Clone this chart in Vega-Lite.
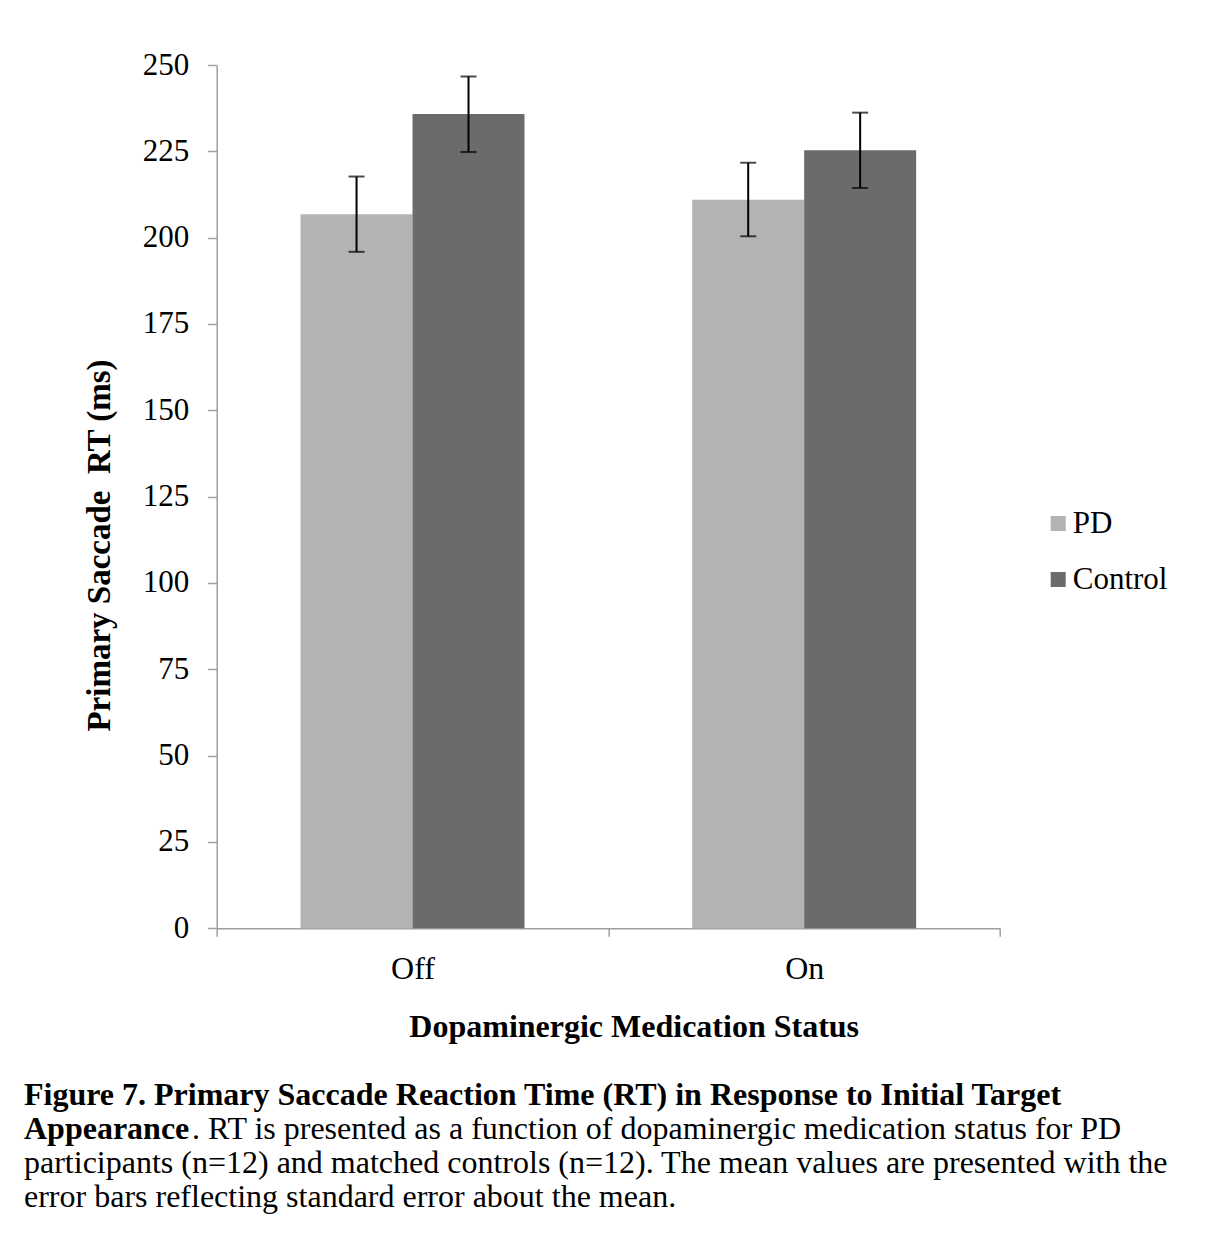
{
  "$schema": "https://vega.github.io/schema/vega-lite/v6.json",
  "width": 783.3,
  "height": 863.3,
  "autosize": {"type": "none"},
  "padding": {"left": 216.7, "top": 65, "right": 217, "bottom": 323.7},
  "background": "white",
  "config": {"view": {"stroke": null}, "font": "Liberation Serif"},
  "title": {
    "text": ["Figure 7. Primary Saccade Reaction Time (RT) in Response to Initial Target", "Appearance"],
    "subtitle": ["\u200b\u00a0\u00a0\u00a0\u00a0\u00a0\u00a0\u00a0\u00a0\u00a0\u00a0\u00a0\u00a0\u00a0\u00a0\u00a0\u00a0\u00a0\u00a0\u00a0\u00a0\u00a0. RT is presented as a function of dopaminergic medication status for PD", "participants (n=12) and matched controls (n=12). The mean values are presented with the", "error bars reflecting standard error about the mean."],
    "orient": "bottom",
    "anchor": "start",
    "frame": "group",
    "dx": -192.7,
    "offset": 38,
    "font": "Liberation Serif",
    "fontSize": 32,
    "fontWeight": "bold",
    "color": "black",
    "lineHeight": 34,
    "subtitleFont": "Liberation Serif",
    "subtitleFontSize": 32,
    "subtitleFontWeight": "normal",
    "subtitleColor": "black",
    "subtitleLineHeight": 34,
    "subtitlePadding": -32
  },
  "data": {"values": [
    {"status": "Off", "group": "PD", "mean": 206.8, "lo": 195.9, "hi": 217.7},
    {"status": "Off", "group": "Control", "mean": 235.8, "lo": 224.8, "hi": 246.7},
    {"status": "On", "group": "PD", "mean": 211.0, "lo": 200.4, "hi": 221.7},
    {"status": "On", "group": "Control", "mean": 225.3, "lo": 214.4, "hi": 236.2}
  ]},
  "encoding": {
    "x": {
      "field": "status", "type": "nominal", "sort": ["Off", "On"],
      "scale": {"paddingInner": 0, "paddingOuter": 0},
      "axis": {
        "title": "Dopaminergic Medication Status",
        "tickBand": "extent",
        "labelAngle": 0,
        "domainColor": "#a0a0a0", "domainWidth": 1.5,
        "tickColor": "#a0a0a0", "tickWidth": 1.5, "tickSize": 8,
        "labelFont": "Liberation Serif", "labelFontSize": 32, "labelColor": "black", "labelPadding": 17,
        "titleFont": "Liberation Serif", "titleFontSize": 32, "titleFontWeight": "bold", "titleColor": "black",
        "titleX": 417, "titleY": 83
      }
    },
    "xOffset": {"field": "group", "type": "nominal", "sort": ["PD", "Control"], "scale": {"paddingInner": 0, "paddingOuter": 0.749}}
  },
  "layer": [
    {
      "mark": {"type": "bar"},
      "encoding": {
        "y": {
          "field": "mean", "type": "quantitative", "title": "Primary Saccade \u00a0RT (ms)",
          "scale": {"domain": [0, 250], "nice": false, "zero": true},
          "axis": {
            "values": [0, 25, 50, 75, 100, 125, 150, 175, 200, 225, 250],
            "grid": false,
            "domainColor": "#a0a0a0", "domainWidth": 1.5,
            "tickColor": "#a0a0a0", "tickWidth": 1.5, "tickSize": 9,
            "labelFont": "Liberation Serif", "labelFontSize": 31, "labelColor": "black", "labelPadding": 19,
            "titleFont": "Liberation Serif", "titleFontSize": 33, "titleFontWeight": "bold", "titleColor": "black",
            "titleX": -100, "titleY": 480
          }
        },
        "color": {
          "field": "group", "type": "nominal", "sort": ["PD", "Control"],
          "scale": {"domain": ["PD", "Control"], "range": ["#b3b3b3", "#6b6b6b"]},
          "legend": {
            "title": null, "orient": "none", "legendX": 826, "legendY": 443,
            "symbolType": "square", "symbolSize": 225, "symbolStrokeWidth": 0,
            "labelFont": "Liberation Serif", "labelFontSize": 31, "labelColor": "black",
            "labelOffset": -1, "rowPadding": 24
          }
        }
      }
    },
    {
      "mark": {"type": "rule", "color": "black", "strokeWidth": 2},
      "encoding": {
        "y": {"field": "lo", "type": "quantitative", "title": "Primary Saccade \u00a0RT (ms)"},
        "y2": {"field": "hi"}
      }
    },
    {
      "mark": {"type": "tick", "color": "black", "thickness": 2, "size": 16, "orient": "horizontal"},
      "encoding": {"y": {"field": "lo", "type": "quantitative", "title": "Primary Saccade \u00a0RT (ms)"}}
    },
    {
      "mark": {"type": "tick", "color": "black", "thickness": 2, "size": 16, "orient": "horizontal"},
      "encoding": {"y": {"field": "hi", "type": "quantitative", "title": "Primary Saccade \u00a0RT (ms)"}}
    }
  ]
}
